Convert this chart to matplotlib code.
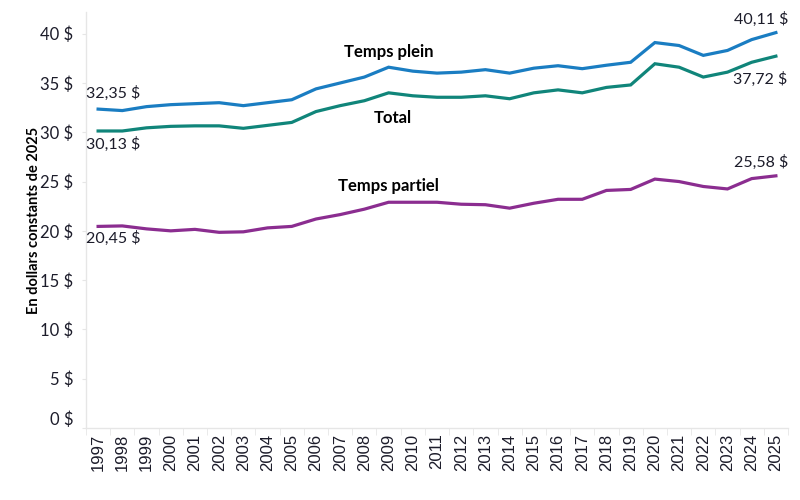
import matplotlib.pyplot as plt
import numpy as np

plt.rcParams['font.family'] = ['Lato', 'DejaVu Sans']

# === données ===
years = list(range(1997, 2026))
temps_plein = [32.35, 32.2, 32.6, 32.8, 32.9, 33.0, 32.7, 33.0, 33.3, 34.4,
               35.0, 35.6, 36.6, 36.2, 36.0, 36.1, 36.35, 36.0, 36.5, 36.75,
               36.45, 36.8, 37.1, 39.1, 38.8, 37.8, 38.3, 39.4, 40.11]
total = [30.13, 30.13, 30.45, 30.6, 30.65, 30.65, 30.4, 30.7, 31.0, 32.1,
         32.7, 33.2, 34.0, 33.7, 33.55, 33.55, 33.7, 33.4, 34.0, 34.3,
         34.0, 34.55, 34.8, 36.95, 36.6, 35.6, 36.1, 37.1, 37.72]
temps_partiel = [20.45, 20.5, 20.2, 20.0, 20.15, 19.85, 19.9, 20.3, 20.45, 21.2,
                 21.65, 22.2, 22.9, 22.9, 22.9, 22.7, 22.65, 22.3, 22.8, 23.2,
                 23.2, 24.1, 24.2, 25.25, 25.0, 24.5, 24.25, 25.3, 25.58]
yticks = [0, 5, 10, 15, 20, 25, 30, 35, 40]

c_plein = '#1a7dc2'
c_total = '#10857a'
c_partiel = '#8b2d90'
c_axis = '#e6e6e6'
c_text = '#1c1c2a'

x = np.arange(len(years))

fig = plt.figure(figsize=(8, 5), dpi=100)
ax = fig.add_axes([0.1075, 0.144, 0.8775, 0.832])

ax.plot(x, temps_plein, color=c_plein, linewidth=2.3, solid_joinstyle='miter')
ax.plot(x, total, color=c_total, linewidth=2.3, solid_joinstyle='miter')
ax.plot(x, temps_partiel, color=c_partiel, linewidth=2.3, solid_joinstyle='miter')

ax.set_xlim(-0.5, len(years) - 0.5)
ax.set_ylim(0, 42.2)

# --- axes ---
for s in ['top', 'right']:
    ax.spines[s].set_visible(False)
for s in ['left', 'bottom']:
    ax.spines[s].set_color(c_axis)
    ax.spines[s].set_linewidth(1)

ax.set_yticks(yticks)
ax.set_yticklabels([f'{v} $' for v in yticks], fontsize=12, color=c_text)
ax.tick_params(axis='y', length=3, color=c_axis, pad=6)
# le libellé 0 $ est un peu remonté
ax.get_yticklabels()[0].set_verticalalignment('bottom')

ax.set_xticks(x)
ax.set_xticklabels([str(y) for y in years], rotation=90, fontsize=12,
                   color=c_text, fontfamily='Liberation Sans')
ax.tick_params(axis='x', length=0, pad=4)
ax.set_xticks(np.arange(-0.5, len(years), 1), minor=True)
ax.tick_params(axis='x', which='minor', length=5, color=c_axis)

ax.set_ylabel('En dollars constants de 2025', fontsize=10.5, fontweight='bold',
              color='black')
ax.yaxis.set_label_coords(-0.064, 0.5)

# --- étiquettes de valeurs ---
fs = 11.5
ax.annotate('32,35 $', (x[0], temps_plein[0]), xytext=(-9, 6), textcoords='offset points',
            ha='left', va='bottom', fontsize=fs, color=c_text)
ax.annotate('30,13 $', (x[0], total[0]), xytext=(-9, -4), textcoords='offset points',
            ha='left', va='top', fontsize=fs, color=c_text)
ax.annotate('20,45 $', (x[0], temps_partiel[0]), xytext=(-9, -3), textcoords='offset points',
            ha='left', va='top', fontsize=fs, color=c_text)
ax.annotate('40,11 $', (x[-1], temps_plein[-1]), xytext=(9, 4), textcoords='offset points',
            ha='right', va='bottom', fontsize=fs, color=c_text)
ax.annotate('37,72 $', (x[-1], total[-1]), xytext=(8, -11), textcoords='offset points',
            ha='right', va='top', fontsize=fs, color=c_text)
ax.annotate('25,58 $', (x[-1], temps_partiel[-1]), xytext=(9, 4), textcoords='offset points',
            ha='right', va='bottom', fontsize=fs, color=c_text)

# --- noms des séries ---
ax.annotate('Temps plein', (12, temps_plein[12]), xytext=(0, 5), textcoords='offset points',
            ha='center', va='bottom', fontsize=12, fontweight='bold', color='black')
ax.annotate('Total', (12, total[12]), xytext=(3, -12), textcoords='offset points',
            ha='center', va='top', fontsize=12, fontweight='bold', color='black')
ax.annotate('Temps partiel', (12, temps_partiel[12]), xytext=(0, 6), textcoords='offset points',
            ha='center', va='bottom', fontsize=12, fontweight='bold', color='black')

plt.savefig('out.png', dpi=100)
